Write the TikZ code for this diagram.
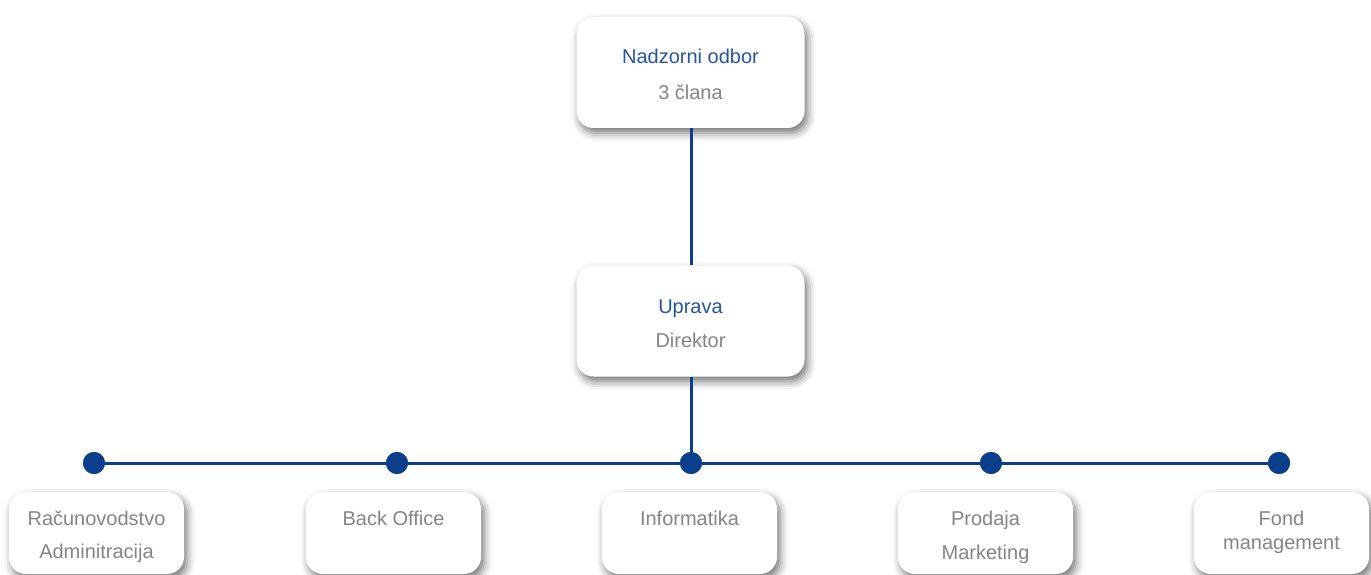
\documentclass[tikz,border=0pt]{standalone}
\usepackage{fontspec}
\setmainfont{Liberation Sans}
\usetikzlibrary{shadows.blur}
\definecolor{lineblue}{HTML}{0B3F8C}
\definecolor{titleblue}{HTML}{2555A0}
\definecolor{subgray}{HTML}{858585}
\tikzset{
  box/.style={draw=none, fill=white, rounded corners=17pt, inner sep=0pt,
    blur shadow={shadow xshift=3pt, shadow yshift=-5pt, shadow blur radius=8pt, shadow opacity=55}},
  bigbox/.style={box, minimum width=228pt, minimum height=111pt},
  smallbox/.style={box, minimum width=175pt, minimum height=82pt},
  ttl/.style={anchor=base, inner sep=0pt, font=\fontsize{20}{24}\selectfont, text=titleblue},
  sub/.style={anchor=base, inner sep=0pt, font=\fontsize{20}{24}\selectfont, text=subgray},
  conn/.style={draw=lineblue, line width=3pt},
  dot/.style={circle, fill=lineblue, minimum size=22pt, inner sep=0pt},
}
\begin{document}
\begin{tikzpicture}[x=1pt,y=-1pt]
\useasboundingbox (0,0) rectangle (1371,575);
% top boxes
\node[bigbox] (nadzor) at (690.5,72.5) {};
\node[bigbox] (uprava) at (690.5,321) {};
% dots
\node[dot] (d1) at (94,463) {};
\node[dot] (d2) at (397,463) {};
\node[dot] (d3) at (691,463) {};
\node[dot] (d4) at (991,463) {};
\node[dot] (d5) at (1279,463) {};
% connectors
\draw[conn] (nadzor.south -| d3) -- (uprava.north -| d3);
\draw[conn] (uprava.south -| d3) -- (d3.center);
\draw[conn] (d1.center) -- (d5.center);
\foreach \d in {d1,d2,d3,d4,d5} \node[dot] at (\d) {};
% bottom boxes
\node[smallbox] (racun) at (96.5,533) {};
\node[smallbox] (back) at (393.5,533) {};
\node[smallbox] (info) at (689.5,533) {};
\node[smallbox] (prod) at (985.5,533) {};
\node[smallbox] (fond) at (1281.5,533) {};
% texts
\node[ttl] (t1) at (690.5,64) {Nadzorni odbor};
\node[sub] (t2) at (690.5,100) {3 člana};
\node[ttl] (t3) at (690.5,313) {Uprava};
\node[sub] (t4) at (690.5,347) {Direktor};
\node[sub] (b1a) at (96.5,525) {Računovodstvo};
\node[sub] (b1b) at (96.5,558) {Adminitracija};
\node[sub] (b2) at (393.5,525) {Back Office};
\node[sub] (b3) at (689.5,525) {Informatika};
\node[sub] (b4a) at (985.5,525) {Prodaja};
\node[sub] (b4b) at (985.5,559) {Marketing};
\node[sub] (b5a) at (1281.5,525) {Fond};
\node[sub] (b5b) at (1281.5,549) {management};
\end{tikzpicture}
\end{document}
